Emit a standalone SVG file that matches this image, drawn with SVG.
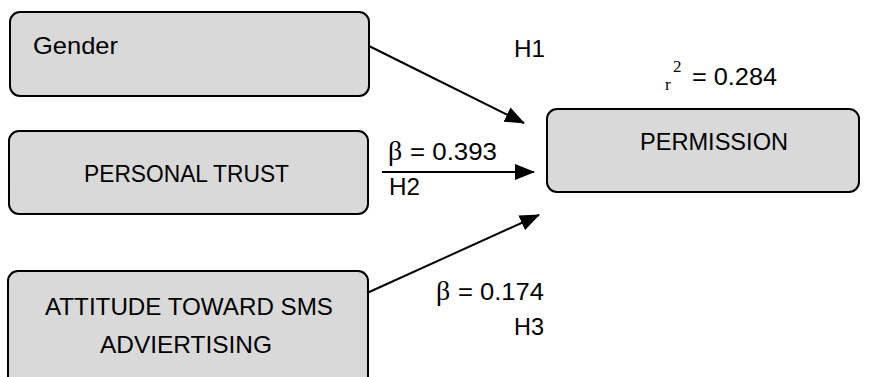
<svg xmlns="http://www.w3.org/2000/svg" width="869" height="377" viewBox="0 0 869 377">
<style>
.box{fill:#d9d9d9;stroke:#000;stroke-width:2}
.t{font-family:"Liberation Sans",Arial,sans-serif;font-size:24px;fill:#000}
.b{font-family:"Liberation Serif","DejaVu Serif",serif;font-size:28px;fill:#000}
.s{font-family:"Liberation Serif","DejaVu Serif",serif;font-size:17px;fill:#000}
.c{stroke:#000;stroke-width:2;fill:none}
</style>
<defs>
<marker id="ah" markerUnits="userSpaceOnUse" markerWidth="20" markerHeight="16" refX="19" refY="8" orient="auto">
<path d="M0,0 L20,8 L0,16 Z" fill="#000"/>
</marker>
</defs>
<rect width="869" height="377" fill="#fff"/>
<g id="gender">
<rect class="box" x="10" y="12" width="359" height="84" rx="10"/>
<text class="t" x="33" y="54" textLength="85" lengthAdjust="spacingAndGlyphs">Gender</text>
</g>
<g id="personal-trust">
<rect class="box" x="9" y="131" width="359" height="83" rx="10"/>
<text class="t" x="84" y="182" textLength="205" lengthAdjust="spacingAndGlyphs">PERSONAL TRUST</text>
</g>
<g id="attitude">
<rect class="box" x="8" y="271" width="360" height="120" rx="10"/>
<text class="t" x="45" y="315" textLength="288" lengthAdjust="spacingAndGlyphs">ATTITUDE TOWARD SMS</text>
<text class="t" x="100" y="353" textLength="172" lengthAdjust="spacingAndGlyphs">ADVIERTISING</text>
</g>
<g id="permission">
<rect class="box" x="547" y="109" width="312" height="83" rx="10"/>
<text class="t" x="640" y="150" textLength="148" lengthAdjust="spacingAndGlyphs">PERMISSION</text>
</g>
<g id="connectors">
<line class="c" x1="369" y1="46" x2="524" y2="123" marker-end="url(#ah)"/>
<line class="c" x1="382" y1="172" x2="534" y2="172" marker-end="url(#ah)"/>
<line class="c" x1="367" y1="293" x2="539" y2="215" marker-end="url(#ah)"/>
</g>
<g id="labels">
<text class="t" x="514" y="57" textLength="31" lengthAdjust="spacingAndGlyphs">H1</text>
<text class="b" x="388" y="160">β</text>
<text class="t" x="410" y="160" textLength="87" lengthAdjust="spacingAndGlyphs">= 0.393</text>
<text class="t" x="389" y="195" textLength="31" lengthAdjust="spacingAndGlyphs">H2</text>
<text class="b" x="436" y="300">β</text>
<text class="t" x="458" y="300" textLength="86" lengthAdjust="spacingAndGlyphs">= 0.174</text>
<text class="t" x="514" y="335" textLength="30" lengthAdjust="spacingAndGlyphs">H3</text>
<text class="s" x="665" y="90">r</text>
<text class="s" x="673" y="72">2</text>
<text class="t" x="692" y="85" textLength="85" lengthAdjust="spacingAndGlyphs">= 0.284</text>
</g>
</svg>
